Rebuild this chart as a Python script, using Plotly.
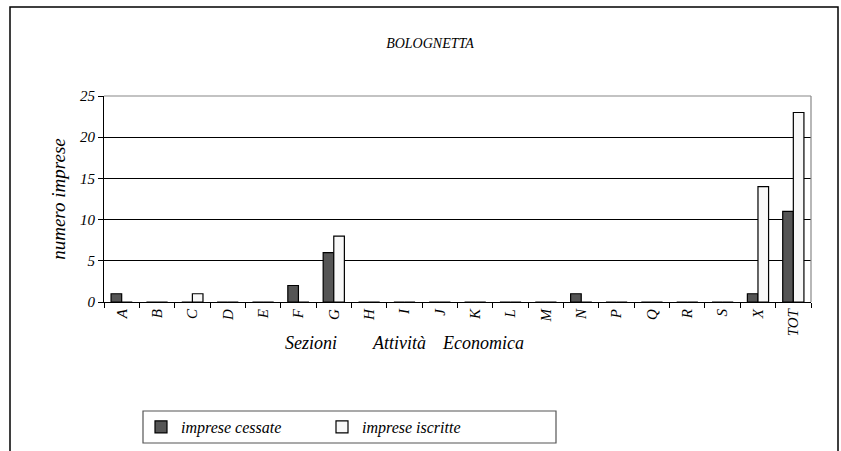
import plotly.graph_objects as go

categories = ["A", "B", "C", "D", "E", "F", "G", "H", "I", "J", "K", "L", "M",
              "N", "P", "Q", "R", "S", "X", "TOT"]
imprese_cessate = [1, 0, 0, 0, 0, 2, 6, 0, 0, 0, 0, 0, 0, 1, 0, 0, 0, 0, 1, 11]
imprese_iscritte = [0, 0, 1, 0, 0, 0, 8, 0, 0, 0, 0, 0, 0, 0, 0, 0, 0, 0, 14, 23]
y_ticks = [0, 5, 10, 15, 20, 25]

SERIF = "Liberation Serif"
W, H = 841, 451
L, R, T, B = 104, 30, 96, 149
pw, ph = W - L - R, H - T - B


def px_x(x):
    return (x - L) / pw


def px_y(y):
    return (H - B - y) / ph


fig = go.Figure()
fig.add_trace(go.Bar(
    x=categories, y=imprese_cessate, name="imprese cessate",
    marker=dict(color="#555555", line=dict(color="black", width=1.2)),
))
fig.add_trace(go.Bar(
    x=categories, y=imprese_iscritte, name="imprese iscritte",
    marker=dict(color="#f8f8f8", line=dict(color="black", width=1.2)),
))

fig.update_layout(
    width=W, height=H,
    margin=dict(l=L, r=R, t=T, b=B, autoexpand=False),
    paper_bgcolor="white", plot_bgcolor="white",
    barmode="group", bargap=0.4, bargroupgap=0,
    showlegend=True,
    font=dict(family=SERIF, color="black"),
    title=dict(text="BOLOGNETTA", xref="container", x=430 / W, xanchor="center",
               yref="container", y=1 - 43 / H, yanchor="middle",
               font=dict(family=SERIF, size=14, style="italic", color="black")),
    legend=dict(orientation="h", x=px_x(141), xanchor="left",
                y=px_y(427), yanchor="middle",
                entrywidth=136, entrywidthmode="pixels",
                bgcolor="rgba(0,0,0,0)", borderwidth=0,
                font=dict(family=SERIF, size=16, style="italic", color="black")),
    xaxis=dict(
        type="category", tickangle=-90, ticks="outside", ticklen=5,
        tickson="boundaries", tickcolor="black", tickwidth=1,
        showline=True, linecolor="black", linewidth=1.2,
        showgrid=False, automargin=False,
        tickfont=dict(family=SERIF, size=15, style="italic", color="black"),
    ),
    yaxis=dict(
        range=[0, 25], tickvals=y_ticks, ticks="outside", ticklen=5,
        tickcolor="black", showline=True, linecolor="black", linewidth=1.2,
        showgrid=True, gridcolor="black", gridwidth=1, zeroline=False,
        automargin=False,
        tickfont=dict(family=SERIF, size=15, style="italic", color="black"),
        title=dict(text="numero imprese", standoff=9,
                   font=dict(family=SERIF, size=19, style="italic", color="black")),
    ),
)

# plot area border (gray top/right)
fig.add_shape(type="line", xref="paper", yref="paper", x0=0, x1=1, y0=1, y1=1,
              line=dict(color="#888888", width=1.2))
fig.add_shape(type="line", xref="paper", yref="paper", x0=1, x1=1, y0=0, y1=1,
              line=dict(color="#888888", width=1.2))
# outer chart frame
fig.add_shape(type="rect", xref="paper", yref="paper",
              x0=px_x(10), x1=px_x(838), y0=px_y(470), y1=px_y(7),
              line=dict(color="black", width=1.5), fillcolor="rgba(0,0,0,0)")
# legend box
fig.add_shape(type="rect", xref="paper", yref="paper",
              x0=px_x(143), x1=px_x(556), y0=px_y(443), y1=px_y(411),
              line=dict(color="#555555", width=1.2), fillcolor="rgba(0,0,0,0)")

# x axis title words
for word, cx in [("Sezioni", 311), ("Attività", 399), ("Economica", 483)]:
    fig.add_annotation(text=word, xref="paper", yref="paper", x=px_x(cx), y=px_y(343),
                       xanchor="center", yanchor="middle", showarrow=False,
                       font=dict(family=SERIF, size=18, style="italic", color="black"))

fig.write_html("out.html", config={"displayModeBar": False},
               post_script="document.body.style.margin='0';document.body.style.overflow='hidden';")
